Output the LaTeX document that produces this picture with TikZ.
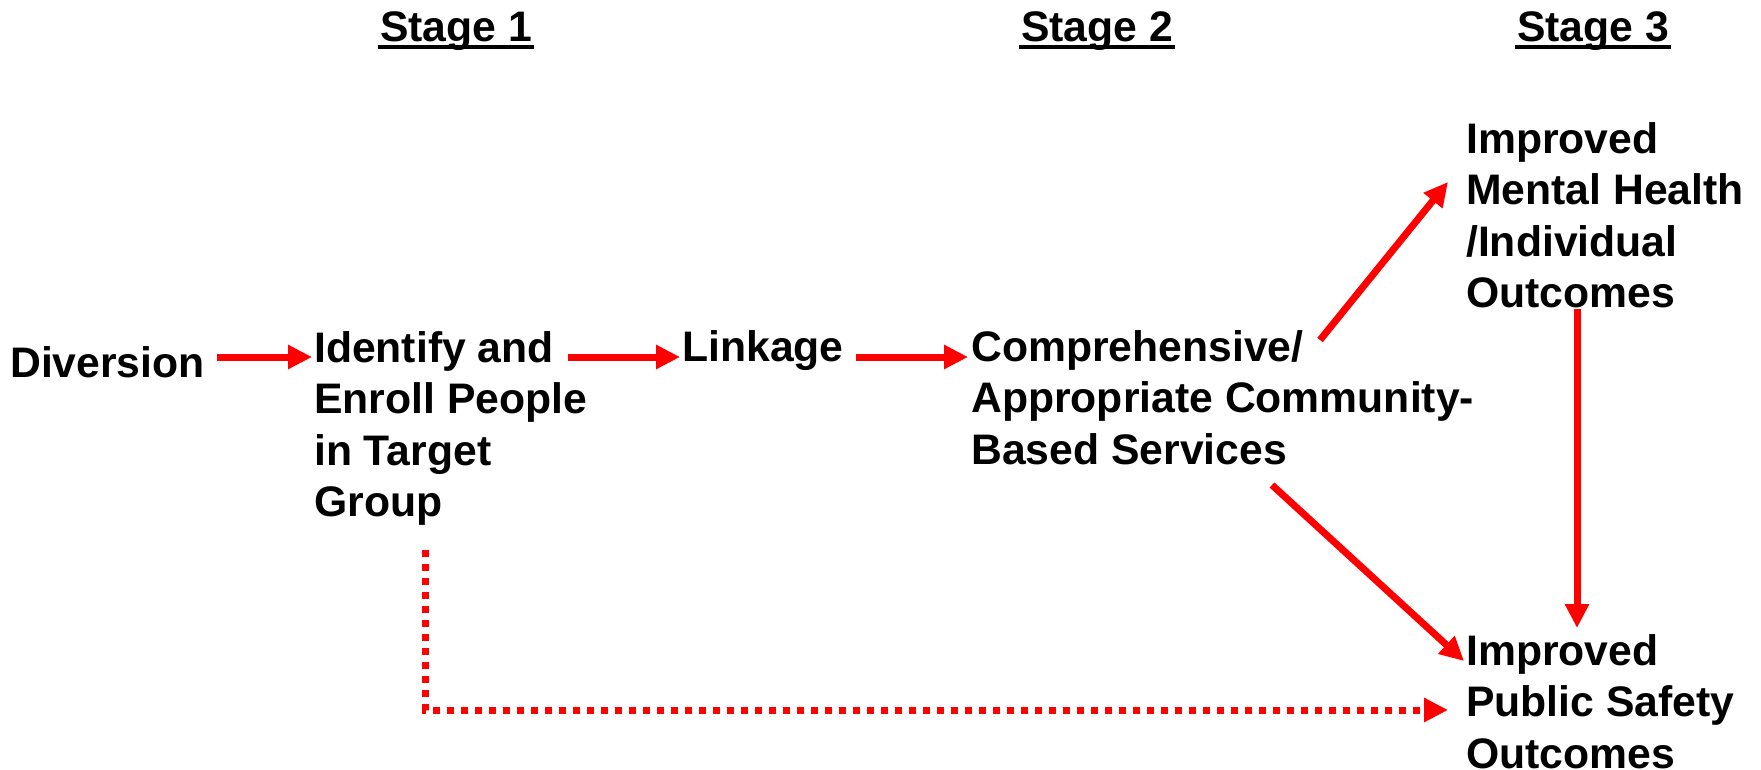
\documentclass[tikz,border=0pt]{standalone}
\usepackage{fontspec}
\setmainfont{Liberation Sans}
\usetikzlibrary{arrows.meta}
\definecolor{arrred}{RGB}{255,0,0}
\begin{document}
\begin{tikzpicture}[x=1pt,y=-1pt,
  txt/.style={anchor=north west,inner sep=0pt,align=left,font=\fontsize{42.7}{51.5}\selectfont\bfseries},
  hdr/.style={anchor=base,inner sep=0pt,font=\fontsize{42.7}{51.5}\selectfont\bfseries},
  arr/.style={draw=arrred,line width=7pt,-{Triangle[length=24pt,width=23pt]}},
  dotarr/.style={arr,dash pattern=on 7.3pt off 6.7pt},
  uline/.style={draw=black,line width=4pt}]
\useasboundingbox (0,0) rectangle (1761,770);

% stage headers
\node[hdr] (s1) at (456,42) {Stage 1};
\node[hdr] (s2) at (1097,42) {Stage 2};
\node[hdr] (s3) at (1593,42) {Stage 3};
\foreach \s in {s1,s2,s3}
  \draw[uline] ([xshift=-2pt,yshift=-5pt]\s.base west) -- ([xshift=2pt,yshift=-5pt]\s.base east);

% text nodes
\node[txt] (div)  at (10,346)     {Diversion};
\node[txt] (iden) at (314,331)    {Identify and\\Enroll People\\in Target\\Group};
\node[txt] (link) at (682,330)    {Linkage};
\node[txt] (comp) at (971,330)    {Comprehensive/\\Appropriate Community-\\Based Services};
\node[txt] (imh)  at (1466,122)   {Improved\\Mental Health\\/Individual\\Outcomes};
\node[txt] (ips)  at (1466,634)   {Improved\\Public Safety\\Outcomes};

% connectors
\draw[arr] ([shift={(207,11)}]div.north west) -- ([shift={(-2,26)}]iden.north west);
\draw[arr] ([shift={(254,26)}]iden.north west) -- ([shift={(-2,27)}]link.north west);
\draw[arr] ([shift={(174,27)}]link.north west) -- ([shift={(-3,27)}]comp.north west);
\draw[arr] ([shift={(349,10)}]comp.north west) -- ([shift={(-18,60)}]imh.north west);
\draw[arr] ([shift={(301,155)}]comp.north west) -- ([shift={(-2,27)}]ips.north west);
\draw[arr] ([shift={(111,187)}]imh.north west) -- ([shift={(111,-6)}]ips.north west);
\draw[dotarr] ([shift={(111,218.5)}]iden.north west) |- ([shift={(-18,76)}]ips.north west);
\end{tikzpicture}
\end{document}
